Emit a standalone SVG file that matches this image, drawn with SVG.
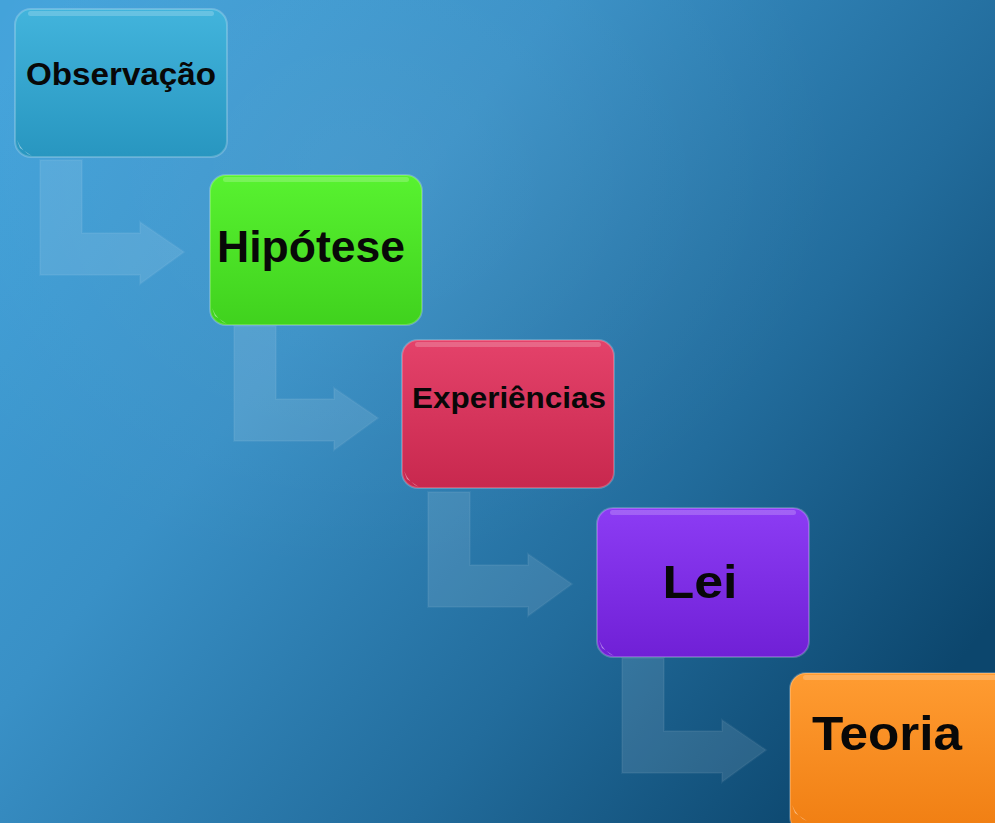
<svg xmlns="http://www.w3.org/2000/svg" width="995" height="823" viewBox="0 0 995 823">
<defs>
<linearGradient id="bg" x1="0" y1="0.1" x2="1" y2="0.75">
<stop offset="0" stop-color="#42a2da"/>
<stop offset="0.35" stop-color="#3990c6"/>
<stop offset="0.7" stop-color="#226c9c"/>
<stop offset="1" stop-color="#0c466d"/>
</linearGradient>
<radialGradient id="glow" cx="0.35" cy="0.2" r="0.5">
<stop offset="0" stop-color="#ffffff" stop-opacity="0.06"/>
<stop offset="1" stop-color="#ffffff" stop-opacity="0"/>
</radialGradient>
<linearGradient id="gObs" x1="0" y1="0" x2="0" y2="1"><stop offset="0" stop-color="#42b4dc"/><stop offset="1" stop-color="#2896c0"/></linearGradient>
<linearGradient id="gHip" x1="0" y1="0" x2="0" y2="1"><stop offset="0" stop-color="#58f230"/><stop offset="1" stop-color="#40d21e"/></linearGradient>
<linearGradient id="gExp" x1="0" y1="0" x2="0" y2="1"><stop offset="0" stop-color="#e4426a"/><stop offset="1" stop-color="#c8284e"/></linearGradient>
<linearGradient id="gLei" x1="0" y1="0" x2="0" y2="1"><stop offset="0" stop-color="#8c3cf4"/><stop offset="1" stop-color="#7020d6"/></linearGradient>
<linearGradient id="gTeo" x1="0" y1="0" x2="0" y2="1"><stop offset="0" stop-color="#ff9c32"/><stop offset="1" stop-color="#f07e12"/></linearGradient>
<path id="arrow" d="M40,160 L40,275 L140,275 L140,284 L184,252 L140,222 L140,233 L82,233 L82,160 Z"/>
</defs>
<style>
.box{stroke:#ffffff;stroke-opacity:0.22;stroke-width:2}
.hl{fill:#ffffff;fill-opacity:0.2}
.curl{fill:#ffffff;fill-opacity:0.45}
.lbl{font-family:"Liberation Sans",Arial,sans-serif;font-weight:bold;fill:#080808;text-anchor:middle}
.arr{fill:#ffffff;fill-opacity:0.11;stroke:#ffffff;stroke-opacity:0.05;stroke-width:2}
</style>
<rect width="995" height="823" fill="url(#bg)"/>
<rect width="995" height="823" fill="url(#glow)"/>
<g id="connectors">
<use href="#arrow" class="arr"/>
<use href="#arrow" class="arr" transform="translate(194,166)"/>
<use href="#arrow" class="arr" transform="translate(388,332)"/>
<use href="#arrow" class="arr" transform="translate(582,498)"/>
</g>
<g id="observacao">
<rect class="box" x="15" y="9" width="212" height="148" rx="16" fill="url(#gObs)"/>
<rect class="hl" x="28" y="11" width="186" height="5" rx="2.5"/>
<path class="curl" d="M17,140 Q22,152 32,156 L20,148 Z"/>
<text class="lbl" x="121" y="85" font-size="31" textLength="190" lengthAdjust="spacingAndGlyphs">Observação</text>
</g>
<g id="hipotese">
<rect class="box" x="210" y="175" width="212" height="150" rx="16" fill="url(#gHip)"/>
<rect class="hl" x="223" y="177" width="186" height="5" rx="2.5"/>
<path class="curl" d="M212,308 Q217,320 227,324 L215,316 Z"/>
<text class="lbl" x="311" y="262" font-size="45" textLength="188" lengthAdjust="spacingAndGlyphs">Hipótese</text>
</g>
<g id="experiencias">
<rect class="box" x="402" y="340" width="212" height="148" rx="16" fill="url(#gExp)"/>
<rect class="hl" x="415" y="342" width="186" height="5" rx="2.5"/>
<path class="curl" d="M404,471 Q409,483 419,487 L407,479 Z"/>
<text class="lbl" x="509" y="408" font-size="29" textLength="194" lengthAdjust="spacingAndGlyphs">Experiências</text>
</g>
<g id="lei">
<rect class="box" x="597" y="508" width="212" height="149" rx="16" fill="url(#gLei)"/>
<rect class="hl" x="610" y="510" width="186" height="5" rx="2.5"/>
<path class="curl" d="M599,640 Q604,652 614,656 L602,648 Z"/>
<text class="lbl" x="700" y="598" font-size="47" textLength="75" lengthAdjust="spacingAndGlyphs">Lei</text>
</g>
<g id="teoria">
<rect class="box" x="790" y="673" width="220" height="160" rx="16" fill="url(#gTeo)"/>
<rect class="hl" x="803" y="675" width="200" height="5" rx="2.5"/>
<path class="curl" d="M792,805 Q797,817 807,821 L795,813 Z"/>
<text class="lbl" x="887" y="750" font-size="48" textLength="150" lengthAdjust="spacingAndGlyphs">Teoria</text>
</g>
</svg>
